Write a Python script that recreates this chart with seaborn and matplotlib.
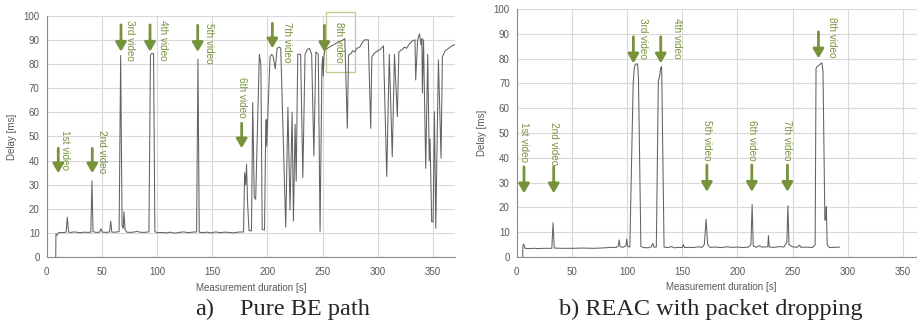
import matplotlib
matplotlib.use("Agg")
import matplotlib.pyplot as plt
import seaborn as sns
import pandas as pd
from matplotlib.patches import Rectangle

# ---------------- data ----------------
left_t = [8.2, 8.4, 9.5, 10.5, 13, 15, 17.6, 18.7, 19.8, 22, 25, 28, 31, 34, 37,
          40.0, 41.0, 42.0, 45, 48, 49.2, 50.5, 54, 57.0, 58.0, 59.0, 62, 65.6, 67.0,
          68.3, 69.4, 70.0, 71.0, 72.5, 76, 80, 82, 84, 88, 92.6, 94.0, 94.8, 96.8,
          98.0, 100, 104, 108, 112, 116, 120, 124, 128, 132, 135.8, 137.0, 138.2, 141,
          145, 149, 153, 157, 161, 165, 169, 173, 178.3, 179.3, 180.2, 181.0, 182.0,
          183.3, 185.5, 186.6, 188.0, 189.3, 192.6, 194, 195.2, 197.3, 198.3, 198.8,
          199.3, 200, 202.3, 203.8, 205.2, 207, 208.7, 210.9, 212, 216.5, 218.5, 220.4,
          222.3, 223.5, 225.0, 226.0, 227.4, 230, 232, 234, 236, 238, 240, 242, 243.8,
          246, 247.6, 249.3, 250, 250.5, 251.2, 252, 256, 260, 264, 267, 270, 272.3,
          273.4, 276, 277, 279, 281, 283.6, 286, 288, 291.3, 293.5, 294.5, 297, 300,
          302, 305, 308, 310.3, 313, 315, 317.6, 319, 322, 324, 326, 328, 331, 333.6,
          334.2, 336, 337.6, 339, 339.8, 340.3, 341.3, 343.3, 345.1, 346.5, 347.2,
          348.7, 350, 351.2, 352.4, 354.8, 357.2, 358.4, 361, 364, 367, 369.8]
left_delay = [0, 9.6, 9.1, 10.1, 10.3, 10.2, 10.4, 16.6, 10.4, 10.3, 10.5, 10.3, 10.2, 10.4, 10.3,
              10.4, 31.6, 10.6, 10.3, 10.4, 11.8, 10.4, 10.3, 10.5, 15.0, 10.4, 10.4, 10.6, 83.5,
              13, 12, 18.9, 11.5, 10.4, 10.3, 10.5, 10.8, 10.4, 10.3, 10.5, 83.5, 84.3, 84.3,
              10.6, 10.2, 10.3, 10.1, 10.4, 10.0, 10.3, 10.5, 10.2, 10.4, 10.5, 82, 10.4, 10.2,
              10.4, 10.1, 10.5, 10.2, 10.4, 10.3, 10.1, 10.4, 10.5, 35, 30, 38.5, 22,
              11, 11, 64, 25, 24, 84, 80, 11.5, 11.3, 50, 57,
              46, 55, 83, 84, 83, 78, 86.5, 87, 86.5, 12.5, 62, 19.6,
              60, 15, 55, 31.5, 84, 84, 33, 84, 86, 86.5, 84, 42, 85,
              84, 10.7, 79, 83, 75, 83, 85.8, 87, 88, 89, 89.5, 90.5, 53.4,
              83.7, 84.5, 85.5, 85, 86.5, 87, 89, 90, 90, 53.4, 83, 84.5, 85.5,
              86, 87.5, 33.4, 84, 41.6, 84, 58.2, 85, 86, 87, 86.5, 88, 89.5, 90,
              73.4, 90, 92.5, 88, 90.5, 68, 90, 36.8, 84, 40, 49,
              14.7, 14.7, 60.3, 12, 81.7, 41, 83, 85.5, 86.5, 87.5, 88]

right_t = [5.4, 5.6, 6.3, 7.5, 10, 15, 20, 25, 31.8, 32.9, 34, 40, 50, 60, 70, 80, 85, 90,
           92, 92.8, 93.6, 96, 99, 99.7, 100.5, 102.5, 105.5, 106.5, 107.5, 109.5, 110.3,
           112.5, 115, 119, 122, 123.3, 124.5, 126.5, 128.3, 129.3, 130.5, 131.3, 133.5,
           137, 140, 143, 146, 150, 151, 152, 156, 160, 164, 168, 170, 171.6, 173, 175,
           180, 185, 190, 195, 200, 205, 210, 212.2, 213.3, 214.3, 217, 220, 222, 227.5,
           228.1, 228.8, 233, 238, 242, 244.8, 245.7, 246.7, 250, 254, 256.2, 257.5, 263,
           268, 270.4, 271.2, 272, 276.5, 277.5, 279.2, 280, 280.5, 281.3, 283.3, 288, 292.5]
right_delay = [0, 4.5, 5.2, 3.5, 3.4, 3.5, 3.4, 3.5, 3.5, 13.8, 3.6, 3.5, 3.5, 3.6, 3.5, 3.7, 3.9, 3.8,
               4.5, 6.9, 4.2, 3.9, 4.5, 7.2, 4.3, 4.0, 70, 76, 77.8, 77.8, 72,
               4.2, 3.8, 3.7, 4.1, 5.5, 3.9, 4.1, 71, 72.5, 76.3, 76.8, 4.0,
               3.8, 4.2, 3.7, 3.9, 3.8, 5.0, 3.8, 3.9, 3.8, 4.1, 3.9, 5.0, 15.2, 5.0, 3.9,
               4.0, 3.8, 4.1, 3.9, 4.0, 3.8, 4.0, 5.0, 21.2, 4.5, 3.9, 4.6, 4.0, 4.1,
               8.6, 4.0, 3.9, 4.2, 4.0, 6.0, 20.7, 5.0, 4.1, 3.9, 4.8, 3.9, 4.0,
               3.8, 5.0, 76, 76.7, 78.3, 75, 14.9, 15, 20.3, 5.0, 3.8, 3.9, 4.0]

video_names = ["1st video", "2nd video", "3rd video", "4th video",
               "5th video", "6th video", "7th video", "8th video"]

# annotation arrows: x, tail y, tip y ; labels: x, top y
left_arrow_x = [10.5, 41.3, 67.3, 93.6, 136.8, 176.6, 204.4, 251.5]
left_arrow_tail = [45.1, 45.1, 96.2, 96.2, 96.0, 55.5, 96.8, 96.0]
left_arrow_tip = [34.8, 34.8, 85.1, 85.1, 85.0, 45.1, 86.5, 85.0]
left_label_x = [16.6, 49.8, 75.4, 105.6, 147.3, 176.6, 217.4, 265.0]
left_label_top = [52.7, 52.7, 98.2, 98.2, 96.8, 74.8, 97.5, 97.5]

right_arrow_x = [6.6, 33.5, 105.7, 130.5, 172.3, 213.0, 245.3, 273.4]
right_arrow_tail = [36.4, 36.4, 88.8, 88.8, 37.1, 37.1, 37.1, 90.8]
right_arrow_tip = [25.7, 25.7, 78.1, 78.1, 26.3, 26.3, 26.3, 80.1]
right_label_x = [6.9, 33.5, 114.8, 145.0, 172.3, 213.0, 245.3, 285.6]
right_label_top = [54.6, 54.6, 96.2, 96.2, 55.2, 55.2, 55.2, 96.9]

x_ticks = [0, 50, 100, 150, 200, 250, 300, 350]
y_ticks = [0, 10, 20, 30, 40, 50, 60, 70, 80, 90, 100]

captions = ["a)", "Pure BE path", "b) REAC with packet dropping"]

# ---------------- style ----------------
sns.set_style("white")
plt.rcParams['font.family'] = ['Liberation Sans', 'DejaVu Sans']

GREEN = "#76933c"
LINE = "#626262"
GRID = "#d9d9d9"
TICKC = "#595959"

fig = plt.figure(figsize=(9.17, 3.24), dpi=100)
axL = fig.add_axes([0.0509, 0.2059, 0.4455, 0.7457])
axR = fig.add_axes([0.5635, 0.2068, 0.4453, 0.7654])


def style_axes(ax):
    ax.set_xlim(0, 370)
    ax.set_ylim(0, 100)
    ax.set_xticks(x_ticks)
    ax.set_yticks(y_ticks)
    ax.grid(True, color=GRID, linewidth=0.8)
    ax.set_axisbelow(True)
    for s in ["top", "right"]:
        ax.spines[s].set_visible(False)
    for s in ["left", "bottom"]:
        ax.spines[s].set_color("#8c8c8c")
        ax.spines[s].set_linewidth(0.8)
    ax.tick_params(axis="both", length=3, width=0.6, color="#8c8c8c",
                   labelsize=7, labelcolor=TICKC, pad=2)
    ax.tick_params(axis="x", pad=4)
    ax.set_xlabel("Measurement duration [s]", fontsize=7, color=TICKC, labelpad=4)
    ax.set_ylabel("Delay [ms]", fontsize=7, color=TICKC, labelpad=5)


def annotate(ax, ax_x, tails, tips, lab_x, lab_top):
    for name, x, t0, t1, lx, lt in zip(video_names, ax_x, tails, tips, lab_x, lab_top):
        ax.annotate("", xy=(x, t1), xytext=(x, t0),
                    arrowprops=dict(arrowstyle="-|>,head_length=0.55,head_width=0.32",
                                    color=GREEN, lw=2.0, shrinkA=0, shrinkB=0),
                    annotation_clip=False)
        ax.text(lx, lt, name, rotation=-90, ha="center", va="top",
                fontsize=7.2, color=GREEN, clip_on=False)


dfL = pd.DataFrame({"t": left_t, "d": left_delay})
dfR = pd.DataFrame({"t": right_t, "d": right_delay})

sns.lineplot(data=dfL, x="t", y="d", ax=axL, color=LINE, linewidth=0.75,
             estimator=None, sort=False)
sns.lineplot(data=dfR, x="t", y="d", ax=axR, color=LINE, linewidth=0.75,
             estimator=None, sort=False)

style_axes(axL)
style_axes(axR)

annotate(axL, left_arrow_x, left_arrow_tail, left_arrow_tip, left_label_x, left_label_top)
annotate(axR, right_arrow_x, right_arrow_tail, right_arrow_tip, right_label_x, right_label_top)

# highlight box around the 8th video label
axL.add_patch(Rectangle((252.7, 76.5), 26.6, 25.2, fill=False, edgecolor="#c5c98e",
                        linewidth=0.9, clip_on=False))

serif = ['Liberation Serif', 'DejaVu Serif']
fig.text(195 / 917, 0.045, captions[0], fontsize=17.5, family=serif, ha="left", va="center")
fig.text(240 / 917, 0.045, captions[1], fontsize=17.5, family=serif, ha="left", va="center")
fig.text(711 / 917, 0.045, captions[2], fontsize=17.5, family=serif, ha="center", va="center")

fig.savefig("out.png", dpi=100)
